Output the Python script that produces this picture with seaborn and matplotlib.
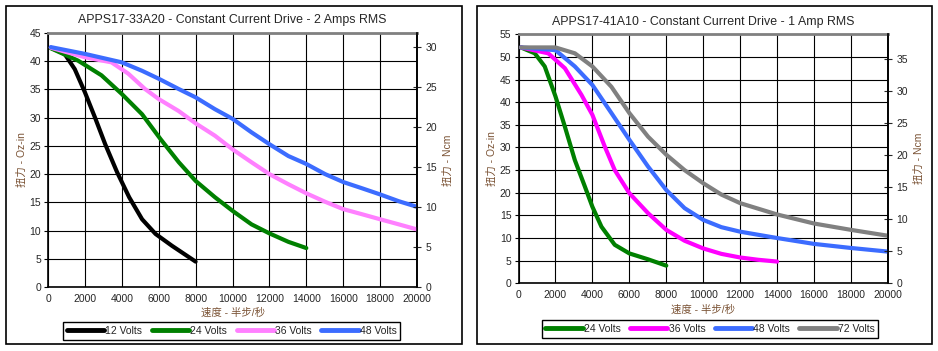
# Torque curves for two stepper motors (APPS17-33A20 / APPS17-41A10)

import pandas as pd
import matplotlib
matplotlib.use('Agg')
import matplotlib.pyplot as plt
import seaborn as sns
from matplotlib.patches import Rectangle
from matplotlib.lines import Line2D

# Data: speed (half steps/s) vs torque (oz-in)
# Left chart: APPS17-33A20, 2 Amps RMS
a_12v_x = [150, 900, 1450, 2000, 2550, 3100, 3750, 4400, 5100, 5830, 6720, 8000]
a_12v_y = [42.4, 41.3, 38.6, 34.5, 30.0, 25.3, 20.3, 15.9, 12.0, 9.4, 7.3, 4.5]
a_24v_x = [150, 1630, 2900, 4000, 5100, 6100, 7090, 8000, 9050, 10000, 11030, 12000, 13030, 14000]
a_24v_y = [42.3, 40.1, 37.5, 34.2, 30.6, 26.2, 22.1, 18.8, 15.9, 13.5, 11.1, 9.5, 8.0, 6.9]
a_36v_x = [150, 2000, 3440, 4350, 5250, 6000, 7070, 8000, 9050, 10000, 11030, 12000, 13030,
           14000, 15020, 16000, 17010, 18000, 19010, 20000]
a_36v_y = [42.4, 40.7, 39.8, 37.8, 35.1, 33.3, 31.2, 29.0, 26.8, 24.4, 22.1, 20.0, 18.2,
           16.6, 15.1, 13.8, 12.9, 12.0, 11.1, 10.2]
a_48v_x = [150, 2000, 4000, 5100, 6000, 7070, 8000, 9050, 10000, 11030, 12000, 13030, 14000,
           15020, 16000, 17010, 18000, 19010, 20000]
a_48v_y = [42.5, 41.3, 39.8, 38.3, 36.9, 35.1, 33.6, 31.5, 29.8, 27.4, 25.3, 23.2, 21.8,
           20.0, 18.6, 17.5, 16.4, 15.2, 14.2]

# Right chart: APPS17-41A10, 1 Amp RMS
b_24v_x = [130, 880, 1420, 2000, 2510, 3050, 3590, 4000, 4490, 5210, 6000, 7010, 8000]
b_24v_y = [52.1, 50.8, 47.9, 41.3, 34.6, 27.2, 21.4, 16.9, 12.5, 8.5, 6.6, 5.3, 3.9]
b_36v_x = [130, 1610, 2510, 3410, 4000, 4670, 5210, 6000, 7010, 8000, 8990, 10000, 10980,
           12000, 12960, 14000]
b_36v_y = [52.1, 50.8, 47.5, 41.6, 37.2, 30.2, 25.0, 19.9, 15.5, 11.8, 9.4, 7.7, 6.5,
           5.7, 5.2, 4.8]
b_48v_x = [130, 2000, 3050, 4000, 5030, 6000, 7010, 8000, 8990, 10000, 10980, 12000, 14000,
           16000, 18000, 20000]
b_48v_y = [52.1, 51.5, 47.9, 43.8, 37.6, 31.7, 25.8, 20.6, 16.6, 14.0, 12.4, 11.4, 10.0,
           8.7, 7.8, 7.0]
b_72v_x = [130, 2000, 3050, 4000, 5030, 6000, 7010, 8000, 8990, 10000, 10980, 12000, 14000,
           16000, 18000, 20000]
b_72v_y = [52.1, 52.1, 50.8, 47.9, 43.4, 37.6, 32.4, 28.4, 25.0, 22.1, 19.6, 17.7, 15.2,
           13.2, 11.8, 10.5]

OZIN_TO_NCM = 0.7062

panels = [
    {
        'title': 'APPS17-33A20 - Constant Current Drive - 2 Amps RMS',
        'series': [('12 Volts', a_12v_x, a_12v_y), ('24 Volts', a_24v_x, a_24v_y),
                   ('36 Volts', a_36v_x, a_36v_y), ('48 Volts', a_48v_x, a_48v_y)],
        'colors': ['#000000', '#008000', '#ff80ff', '#3c6cff'],
        'ymax': 45, 'ncm_ticks': range(0, 31, 5),
        'rect': [48 / 938, 64 / 351, 369 / 938, 254 / 351],
        'box': (5.5, 6, 456, 338),
        'legend_xy': (231.8 / 938, 20 / 351),
    },
    {
        'title': 'APPS17-41A10 - Constant Current Drive - 1 Amp RMS',
        'series': [('24 Volts', b_24v_x, b_24v_y), ('36 Volts', b_36v_x, b_36v_y),
                   ('48 Volts', b_48v_x, b_48v_y), ('72 Volts', b_72v_x, b_72v_y)],
        'colors': ['#008000', '#ff00ff', '#3c6cff', '#808080'],
        'ymax': 55, 'ncm_ticks': range(0, 36, 5),
        'rect': [518.5 / 938, 67.7 / 351, 369.5 / 938, 249 / 351],
        'box': (477, 6, 455, 338),
        'legend_xy': (710 / 938, 22 / 351),
    },
]

sns.set_style('white')
plt.rcParams['font.family'] = ['Liberation Sans', 'Noto Sans CJK SC', 'DejaVu Sans']
label_color = '#7a5234'

fig = plt.figure(figsize=(9.38, 3.51), dpi=100)

for p in panels:
    ax = fig.add_axes(p['rect'])
    frames = []
    for name, xs, ys in p['series']:
        frames.append(pd.DataFrame({'speed': xs, 'torque': ys, 'series': name}))
    df = pd.concat(frames, ignore_index=True)
    names = [s[0] for s in p['series']]
    sns.lineplot(data=df, x='speed', y='torque', hue='series', hue_order=names,
                 palette=p['colors'], estimator=None, linewidth=3,
                 solid_capstyle='round', solid_joinstyle='round',
                 legend=False, ax=ax, zorder=3)

    ax.set_xlim(0, 20000)
    ax.set_ylim(0, p['ymax'])
    ax.set_xticks(range(0, 20001, 2000))
    ax.set_yticks(range(0, p['ymax'] + 1, 5))
    ax.grid(True, color='black', linewidth=0.8)
    ax.set_axisbelow(True)
    ax.tick_params(labelsize=7.5, length=3, width=0.8, color='black', pad=2)
    ax.set_title(p['title'], fontsize=8.9, pad=7)
    ax.set_xlabel('速度 - 半步/秒', fontsize=7.5, color=label_color, labelpad=3)
    ax.set_ylabel('扭力 - Oz-in', fontsize=7.5, color=label_color, labelpad=2)
    for side in ['left', 'bottom', 'right']:
        ax.spines[side].set_color('black')
        ax.spines[side].set_linewidth(1.2)
    ax.spines['top'].set_color('#808080')
    ax.spines['top'].set_linewidth(2)

    ax2 = ax.twinx()
    ax2.set_ylim(0, p['ymax'] * OZIN_TO_NCM)
    ax2.set_yticks(list(p['ncm_ticks']))
    ax2.tick_params(labelsize=7.5, direction='inout', length=6, width=0.8, pad=3)
    ax2.set_ylabel('扭力 - Ncm', fontsize=7.5, color=label_color, labelpad=4)
    for s in ax2.spines.values():
        s.set_visible(False)
    ax2.spines['right'].set_visible(True)
    ax2.spines['right'].set_color('black')
    ax2.spines['right'].set_linewidth(1.2)

    handles = [Line2D([0], [0], color=c, linewidth=3.5, solid_capstyle='round')
               for c in p['colors']]
    fig.legend(handles, names, loc='center', bbox_to_anchor=p['legend_xy'],
               ncol=4, fontsize=7.5, frameon=True, fancybox=False,
               edgecolor='black', handlelength=3.6, handletextpad=0.1,
               columnspacing=0.9, borderpad=0.35, framealpha=1)

    bx, by, bw, bh = p['box']
    fig.patches.append(Rectangle((bx / 938, 1 - (by + bh) / 351), bw / 938, bh / 351,
                                 transform=fig.transFigure, fill=False,
                                 edgecolor='black', linewidth=1.2))

fig.savefig('out.png', dpi=100)
